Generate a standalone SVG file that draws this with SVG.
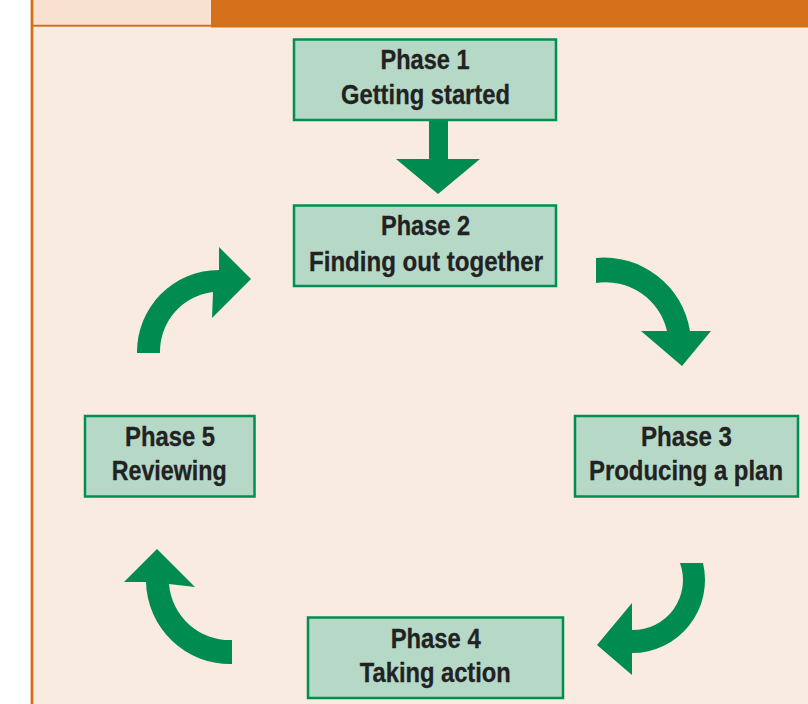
<svg xmlns="http://www.w3.org/2000/svg" width="808" height="704" viewBox="0 0 808 704">
<style>
.box{fill:#b5d8c7;stroke:#008f52;stroke-width:2.5}
.lbl{font-family:"Liberation Sans",Arial,sans-serif;font-weight:bold;font-size:27px;fill:#222;stroke:#222;stroke-width:0.3;text-anchor:middle}
.arr{fill:#008c50}
</style>
<rect x="0" y="0" width="808" height="704" fill="#ffffff"/>
<g id="panel">
<rect x="33" y="27" width="775" height="677" fill="#f9ebdf"/>
<rect x="211" y="0" width="597" height="27.5" fill="#d5701a"/>
<rect x="33" y="0" width="178" height="25" fill="#f8e1cf"/>
<line x1="31" y1="25.7" x2="211" y2="25.7" stroke="#d5701a" stroke-width="2"/>
<line x1="32" y1="0" x2="32" y2="704" stroke="#d5701a" stroke-width="2.8"/>
</g>
<g id="connectors">
<polygon class="arr" points="429,120 448,120 448,159 480,159 438,194 396,159 429,159"/>
<path class="arr" d="M596,258 A87,87 0 0 1 690,331 L711,331 L682,366 L641,331 L667,331 A63,63 0 0 0 596,283 Z"/>
<path class="arr" d="M703,563 A73,73 0 0 1 632,653 L632,675 L597,645 L632,603 L632,630 A50,50 0 0 0 680,563 Z"/>
<path class="arr" d="M232,664 A84,84 0 0 1 146,582 L124,582 L157,549 L195,587 L169,584 A61,61 0 0 0 232,640 Z"/>
<path class="arr" d="M137,353 A82,82 0 0 1 219,270 L219,247 L251,279 L212,318 L213,292 A60,60 0 0 0 160,353 Z"/>
</g>
<g id="phase1">
<rect class="box" x="294" y="39.5" width="262" height="80.5"/>
<text class="lbl" x="425" y="69.3" textLength="89" lengthAdjust="spacingAndGlyphs">Phase 1</text>
<text class="lbl" x="425.5" y="103.5" textLength="169" lengthAdjust="spacingAndGlyphs">Getting started</text>
</g>
<g id="phase2">
<rect class="box" x="294" y="205.5" width="262" height="80.5"/>
<text class="lbl" x="425.5" y="235" textLength="89" lengthAdjust="spacingAndGlyphs">Phase 2</text>
<text class="lbl" x="426" y="270.5" textLength="234" lengthAdjust="spacingAndGlyphs">Finding out together</text>
</g>
<g id="phase3">
<rect class="box" x="575" y="416" width="223" height="80.5"/>
<text class="lbl" x="686.5" y="445.7" textLength="91" lengthAdjust="spacingAndGlyphs">Phase 3</text>
<text class="lbl" x="686" y="480" textLength="194" lengthAdjust="spacingAndGlyphs">Producing a plan</text>
</g>
<g id="phase4">
<rect class="box" x="308" y="617.5" width="255" height="80.5"/>
<text class="lbl" x="435.7" y="648.3" textLength="90" lengthAdjust="spacingAndGlyphs">Phase 4</text>
<text class="lbl" x="435.3" y="682.3" textLength="151" lengthAdjust="spacingAndGlyphs">Taking action</text>
</g>
<g id="phase5">
<rect class="box" x="85" y="416" width="169.5" height="80.5"/>
<text class="lbl" x="170" y="445.7" textLength="90" lengthAdjust="spacingAndGlyphs">Phase 5</text>
<text class="lbl" x="169.2" y="480" textLength="115" lengthAdjust="spacingAndGlyphs">Reviewing</text>
</g>
</svg>
